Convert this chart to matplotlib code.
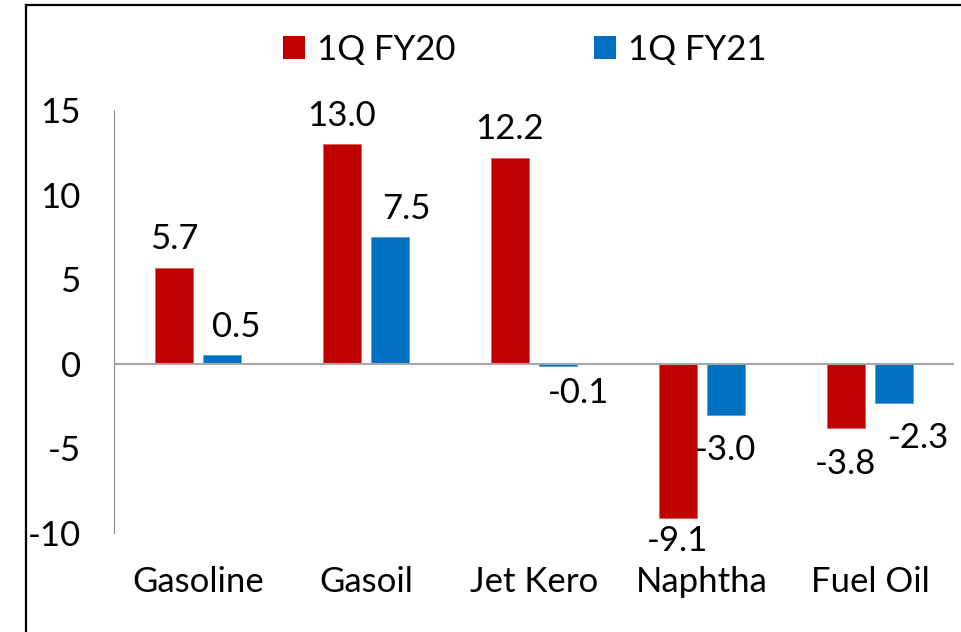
import matplotlib
matplotlib.use("Agg")
import matplotlib.pyplot as plt
from matplotlib.lines import Line2D
from matplotlib.patches import Patch
import numpy as np

categories = ["Gasoline", "Gasoil", "Jet Kero", "Naphtha", "Fuel Oil"]
fy20 = [5.7, 13.0, 12.2, -9.1, -3.8]
fy21 = [0.5, 7.5, -0.1, -3.0, -2.3]
series_names = ["1Q FY20", "1Q FY21"]
yticks = [-10, -5, 0, 5, 10, 15]

red = "#C00000"
blue = "#0070C0"

plt.rcParams["font.family"] = ["Lato", "DejaVu Sans"]
fs = 25

fig = plt.figure(figsize=(9.61, 6.32), dpi=100)
ax = fig.add_axes([0.1186, 0.1566, 0.874, 0.669])

x = np.arange(len(categories))
w = 0.226
gap = 0.06
b1 = ax.bar(x - (w + gap) / 2, fy20, w, color=red, edgecolor="#e06060", linewidth=0.6)
b2 = ax.bar(x + (w + gap) / 2, fy21, w, color=blue, edgecolor="#5aa0d8", linewidth=0.6)

ax.set_xlim(-0.5, 4.5)
ax.set_ylim(-10, 15)
ax.set_yticks(yticks)
ax.set_yticklabels([str(t) for t in yticks])
ax.set_xticks(x)
ax.set_xticklabels(categories)
ax.tick_params(axis="both", length=0, labelsize=fs)
ax.tick_params(axis="y", pad=24)
ax.tick_params(axis="x", pad=24)
ax.xaxis.set_ticks_position("none")

for s in ["top", "right", "bottom"]:
    ax.spines[s].set_visible(False)
ax.spines["left"].set_color("#8c8c8c")
ax.spines["left"].set_linewidth(0.8)
ax.axhline(0, color="#a6a6a6", linewidth=1.5)

# data labels
nudge20 = [0, 0, 0, 0, 0]
nudge21 = [10, 12, 15, 0, 18]
for bars, vals, nudge in [(b1, fy20, nudge20), (b2, fy21, nudge21)]:
    for rect, v, dx in zip(bars, vals, nudge):
        cx = rect.get_x() + rect.get_width() / 2
        if v >= 0:
            ax.annotate(f"{v:.1f}", (cx, v), xytext=(dx, 9), textcoords="offset points",
                        ha="center", va="bottom", fontsize=fs)
        else:
            if v > -1:
                dy = -8
            elif v < -8:
                dy = -5   # keep clear of the category label below
            else:
                dy = -14
            ax.annotate(f"{v:.1f}", (cx, v), xytext=(dx, dy), textcoords="offset points",
                        ha="center", va="top", fontsize=fs)

handles = [Patch(facecolor=red), Patch(facecolor=blue)]
fig.legend(handles, series_names, loc="center", bbox_to_anchor=(0.546, 0.921), ncol=2,
           frameon=False, fontsize=fs, handlelength=0.62, handleheight=0.62,
           handletextpad=0.35, columnspacing=4.0)

# chart border (left and top only visible)
fig.add_artist(Line2D([0.027, 0.027], [0, 0.992], color="black", linewidth=1.6,
                      transform=fig.transFigure))
fig.add_artist(Line2D([0.027, 1.0], [0.992, 0.992], color="black", linewidth=1.6,
                      transform=fig.transFigure))

fig.savefig("out.png", dpi=100)
